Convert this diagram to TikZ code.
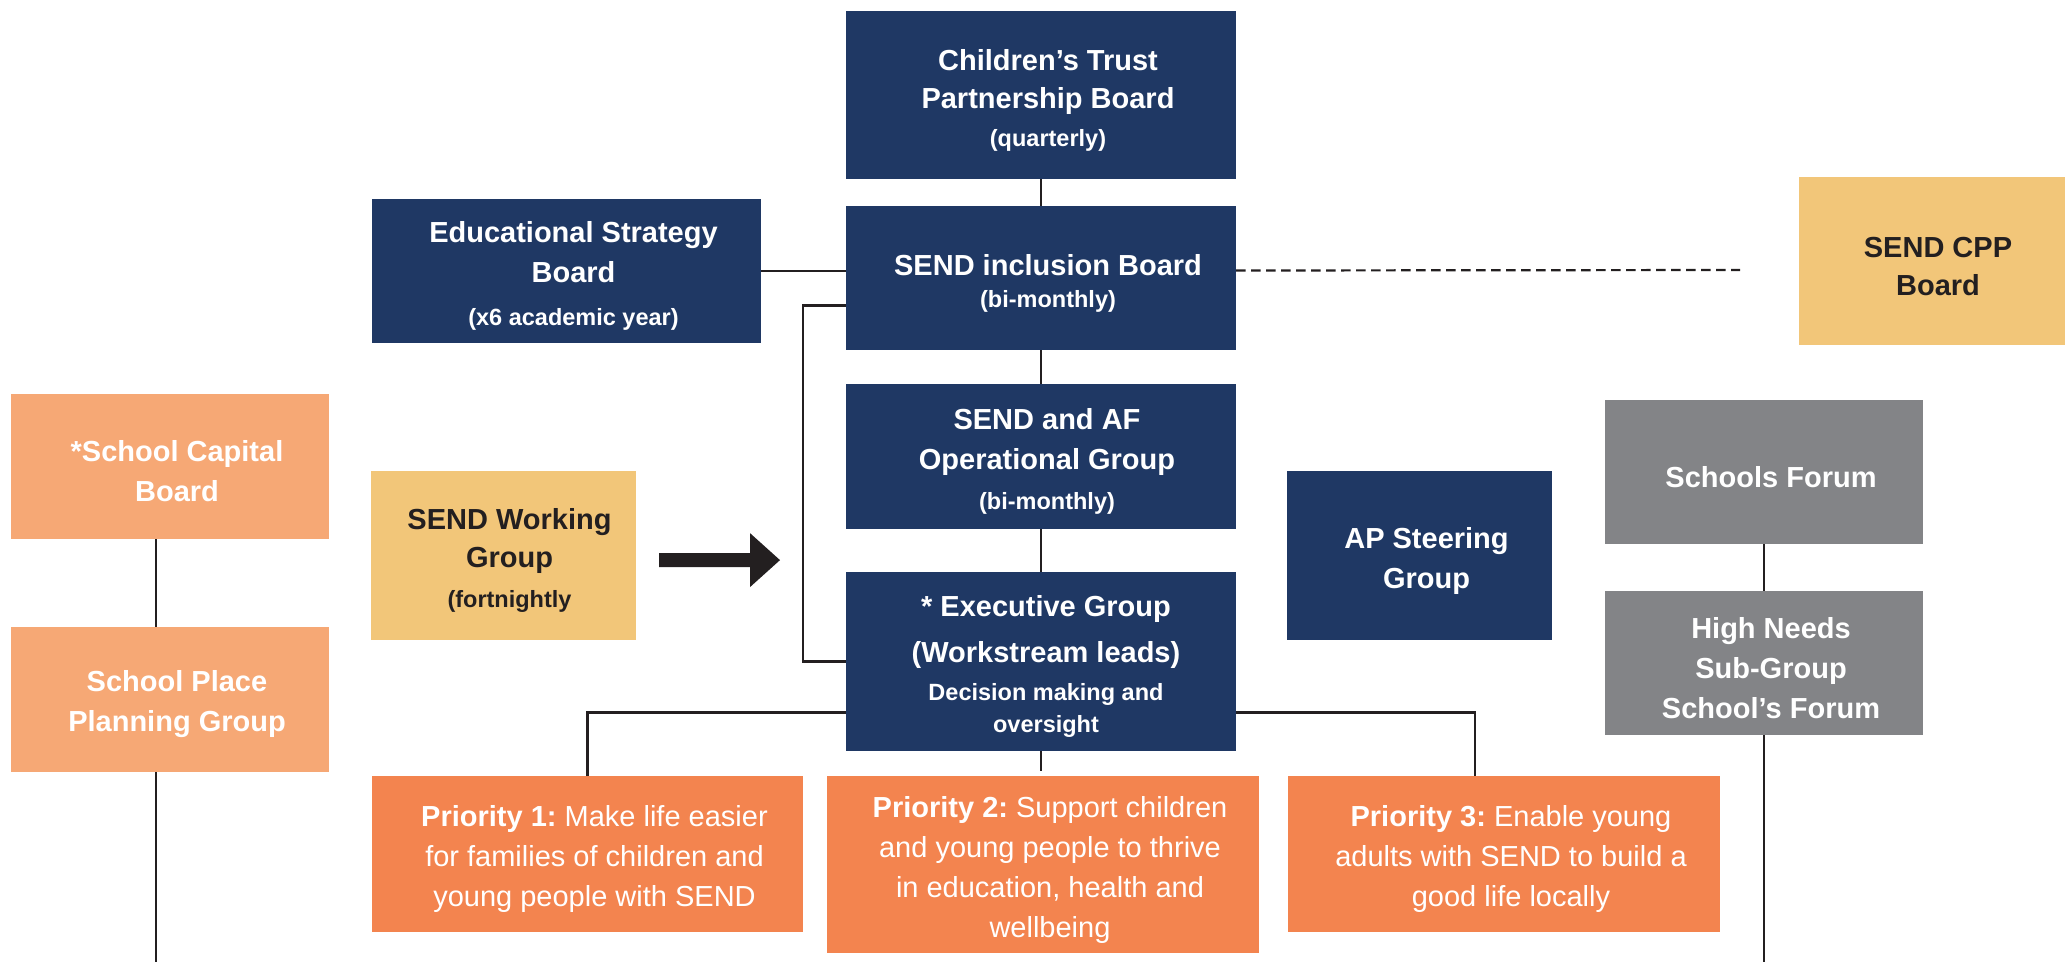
\documentclass[tikz,border=0pt]{standalone}
\usepackage{fontspec}
\setmainfont{Liberation Sans}
\frenchspacing
\definecolor{navy}{HTML}{1F3864}
\definecolor{grayb}{HTML}{838487}
\definecolor{lorange}{HTML}{F6A875}
\definecolor{porange}{HTML}{F3844F}
\definecolor{yellowb}{HTML}{F2C679}
\definecolor{ink}{HTML}{231F20}
\newcommand{\smallfnt}{\fontsize{23.5}{40}\selectfont}
\newcommand{\tstrut}{\rule{0pt}{31pt}}
% #1: twice the rightward shift of the text, #2: text width, #3: text
\newcommand{\boxtext}[3]{\hspace*{#1}\parbox{#2}{\centering\tstrut #3}}
\tikzset{
  box/.style={rectangle, inner sep=0pt, outer sep=0pt, anchor=north west,
    font=\bfseries\fontsize{29}{40}\selectfont},
  navybox/.style={box, fill=navy, text=white},
  graybox/.style={box, fill=grayb, text=white},
  lorbox/.style={box, fill=lorange, text=white},
  yelbox/.style={box, fill=yellowb, text=ink},
  pribox/.style={box, fill=porange, text=white, font=\fontsize{29}{40}\selectfont},
  conn/.style={draw=ink, line width=2.2pt},
}
\begin{document}
\begin{tikzpicture}[x=1pt,y=-1pt]
\useasboundingbox (0,0) rectangle (2067,962);

% nodes
\node[navybox, minimum width=390, minimum height=168] (ctpb) at (846,11)
  {\boxtext{14pt}{360pt}{Children’s Trust\\[-2pt]Partnership Board\\[-2pt]{\smallfnt (quarterly)}}};
\node[navybox, minimum width=390, minimum height=144] (sib) at (846,206)
  {\boxtext{14pt}{360pt}{SEND inclusion Board\\[-8pt]{\smallfnt (bi-monthly)}}};
\node[navybox, minimum width=389, minimum height=144] (esb) at (372,199)
  {\boxtext{14pt}{360pt}{Educational Strategy\\Board\\[3pt]{\smallfnt (x6 academic year)}}};
\node[yelbox, minimum width=266, minimum height=168] (cpp) at (1799,177)
  {\boxtext{12pt}{230pt}{SEND CPP\\[-2pt]Board}};
\node[navybox, minimum width=390, minimum height=145] (op) at (846,384)
  {\boxtext{12pt}{360pt}{SEND and AF\\Operational Group\\{\smallfnt (bi-monthly)}}};
\node[navybox, minimum width=390, minimum height=179] (exec) at (846,572)
  {\boxtext{10pt}{360pt}{* Executive Group\\[6pt](Workstream leads)\\[-2pt]{\smallfnt Decision making and}\\[-8pt]{\smallfnt oversight}}};
\node[navybox, minimum width=265, minimum height=169] (ap) at (1287,471)
  {\boxtext{14pt}{230pt}{AP Steering\\Group}};
\node[graybox, minimum width=318, minimum height=144] (sf) at (1605,400)
  {\boxtext{14pt}{290pt}{Schools Forum}};
\node[graybox, minimum width=318, minimum height=144] (hn) at (1605,591)
  {\boxtext{14pt}{290pt}{High Needs\\Sub-Group\\School’s Forum}};
\node[lorbox, minimum width=318, minimum height=145] (scb) at (11,394)
  {\boxtext{14pt}{290pt}{*School Capital\\Board}};
\node[lorbox, minimum width=318, minimum height=145] (sppg) at (11,627)
  {\boxtext{14pt}{290pt}{School Place\\Planning Group}};
\node[yelbox, minimum width=265, minimum height=169] (swg) at (371,471)
  {\boxtext{12pt}{230pt}{SEND Working\\[-2pt]Group\\{\smallfnt (fortnightly}}};
\node[pribox, minimum width=431, minimum height=156] (p1) at (372,776)
  {\boxtext{14pt}{400pt}{\textbf{Priority 1:} Make life easier\\for families of children and\\young people with SEND}};
\node[pribox, minimum width=432, minimum height=177] (p2) at (827,776)
  {\boxtext{14pt}{400pt}{\textbf{Priority 2:} Support children\\and young people to thrive\\in education, health and\\wellbeing}};
\node[pribox, minimum width=432, minimum height=156] (p3) at (1288,776)
  {\boxtext{14pt}{400pt}{\textbf{Priority 3:} Enable young\\adults with SEND to build a\\good life locally}};

\coordinate (leftEnd) at (155,962);
\coordinate (rightEnd) at (1764,962);
\coordinate (dashEnd) at (1740,270);

% connectors
\draw[conn] (ctpb.south) -- (sib.north);
\draw[conn] (esb.east) -- (esb.east -| sib.west);
\draw[conn] ([yshift=-27.5pt]sib.west) -- ++(-43pt,0) |- (exec.west);
\draw[conn] (sib.south) -- (op.north);
\draw[conn] (op.south) -- (exec.north);
\draw[conn] (exec.south) -- ([yshift=5pt]exec.south |- p2.north);
\draw[conn] (p1.north) |- ([yshift=-51pt]exec.west);
\draw[conn] ([yshift=-51pt]exec.east) -| ([xshift=-29pt]p3.north);
\draw[conn] ([xshift=-14pt]scb.south) -- ([xshift=-14pt]sppg.north);
\draw[conn] ([xshift=-14pt]sppg.south) -- ([xshift=-14pt]sppg.south |- leftEnd);
\draw[conn] (sf.south) -- (hn.north);
\draw[conn] (hn.south) -- (hn.south |- rightEnd);
\draw[conn, dash pattern=on 9.5pt off 5.5pt] ([yshift=7.5pt]sib.east) -- (dashEnd);

% block arrow
\coordinate (arrS) at ([xshift=23pt,yshift=-4.6pt]swg.east);
\fill[ink] (arrS) ++(0,-7) -- ++(91,0) -- ++(0,-20) -- ++(30,27) -- ++(-30,27) -- ++(0,-20) -- ++(-91,0) -- cycle;
\end{tikzpicture}
\end{document}
